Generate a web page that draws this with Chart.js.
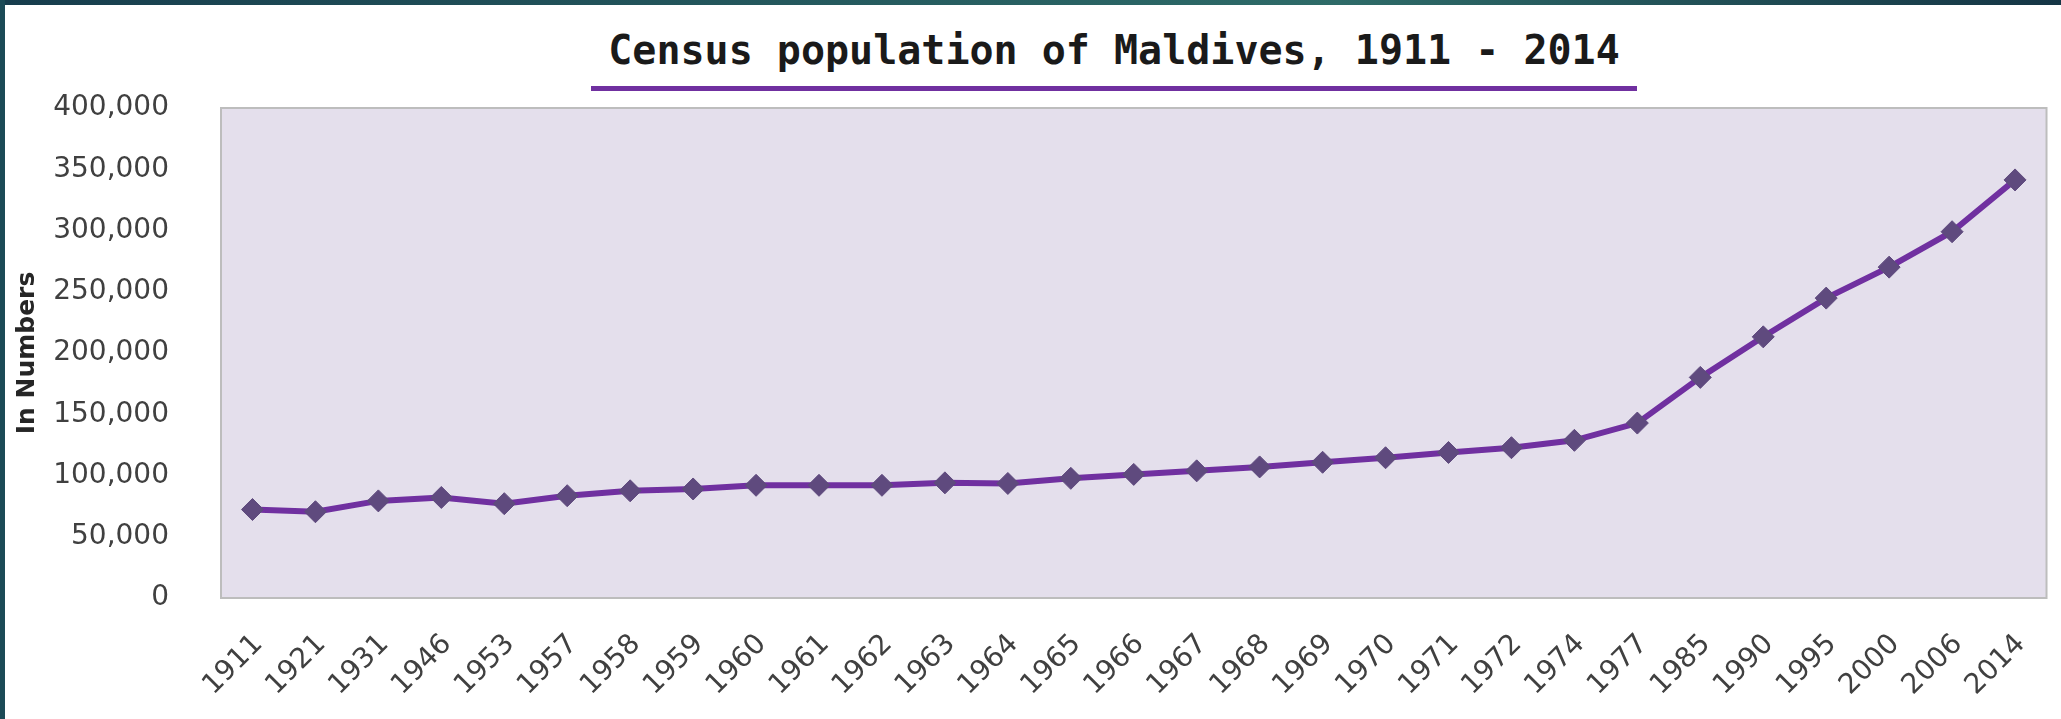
<!DOCTYPE html>
<html>
<head>
<meta charset="utf-8">
<script src="https://cdn.jsdelivr.net/npm/chart.js@4/dist/chart.umd.min.js"></script>
<style>
  html, body { margin: 0; padding: 0; background: #ffffff; }
  body { width: 2061px; height: 719px; position: relative; overflow: hidden; }
  #frameTop { position: absolute; left: 0; top: 0; width: 2061px; height: 5px;
    background: linear-gradient(90deg, #173d4d 0%, #2a6464 55%, #2e6b68 65%, #153545 100%); }
  #frameLeft { position: absolute; left: 0; top: 0; width: 5px; height: 719px; background: #1b4a56; }
  #title { position: absolute; left: 591px; top: 27px; width: 1046px; text-align: center;
    font: bold 40px "DejaVu Sans Mono", monospace; line-height: 47px; color: #1a1a1a;
    padding-bottom: 12px; border-bottom: 5px solid #7030a0; white-space: nowrap; }
  #c { position: absolute; left: 0; top: 0; }
</style>
</head>
<body>
<div id="frameTop"></div>
<div id="frameLeft"></div>
<div id="title">Census population of Maldives, 1911 - 2014</div>
<canvas id="c" width="2061" height="719"></canvas>
<script>
// ---- Data ----
const years = ['1911','1921','1931','1946','1953','1957','1958','1959','1960','1961','1962','1963','1964','1965','1966','1967','1968','1969','1970','1971','1972','1974','1977','1985','1990','1995','2000','2006','2014'];
const population = [72237, 70413, 79281, 82068, 77000, 83500, 87500, 89000, 92000, 92000, 92000, 94000, 93500, 97700, 100900, 103800, 107000, 110800, 114500, 118800, 122700, 128700, 142800, 180100, 213200, 244800, 270100, 299000, 341300];
const yAxisMin = 0;
const yAxisMax = 400000;
const yAxisStep = 50000;
const yAxisTitle = 'In Numbers';

// ---- Plot area background / border ----
const plotBox = {
  id: 'plotBox',
  beforeDatasetsDraw(chart) {
    const a = chart.chartArea, ctx = chart.ctx;
    ctx.save();
    ctx.fillStyle = '#e4dfec';
    ctx.fillRect(a.left, a.top, a.right - a.left, a.bottom - a.top);
    ctx.strokeStyle = '#bdbdbd';
    ctx.lineWidth = 2;
    ctx.strokeRect(a.left, a.top, a.right - a.left, a.bottom - a.top);
    ctx.restore();
  }
};

new Chart(document.getElementById('c'), {
  type: 'line',
  data: {
    labels: years,
    datasets: [{
      data: population,
      borderColor: '#7030a0',
      borderWidth: 6,
      pointStyle: 'rectRot',
      pointRadius: 11,
      pointBackgroundColor: '#5f4a7e',
      pointBorderColor: '#5f4a7e',
      pointBorderWidth: 1,
      tension: 0,
      fill: false
    }]
  },
  options: {
    responsive: false,
    animation: false,
    layout: { padding: { left: 0, top: 108, right: 8, bottom: 0 } },
    plugins: { legend: { display: false }, tooltip: { enabled: false }, title: { display: false } },
    scales: {
      x: {
        offset: true,
        grid: { display: false },
        border: { display: false },
        ticks: {
          minRotation: 45, maxRotation: 45, autoSkip: false,
          color: '#404040', padding: 22, labelOffset: 6,
          font: { family: 'DejaVu Sans', size: 28 }
        },
        afterFit(s) { s.height = 121; }
      },
      y: {
        min: yAxisMin, max: yAxisMax,
        grid: { display: false },
        border: { display: false },
        ticks: {
          stepSize: yAxisStep, color: '#404040', padding: 44,
          font: { family: 'DejaVu Sans', size: 28 },
          callback: v => v.toLocaleString('en-US')
        },
        title: {
          display: true, text: yAxisTitle, color: '#262626',
          font: { family: 'DejaVu Sans', size: 25, weight: 'bold' },
          padding: { top: 12, bottom: 0 }
        },
        afterFit(s) { s.width = 221; }
      }
    }
  },
  plugins: [plotBox]
});
</script>
</body>
</html>
